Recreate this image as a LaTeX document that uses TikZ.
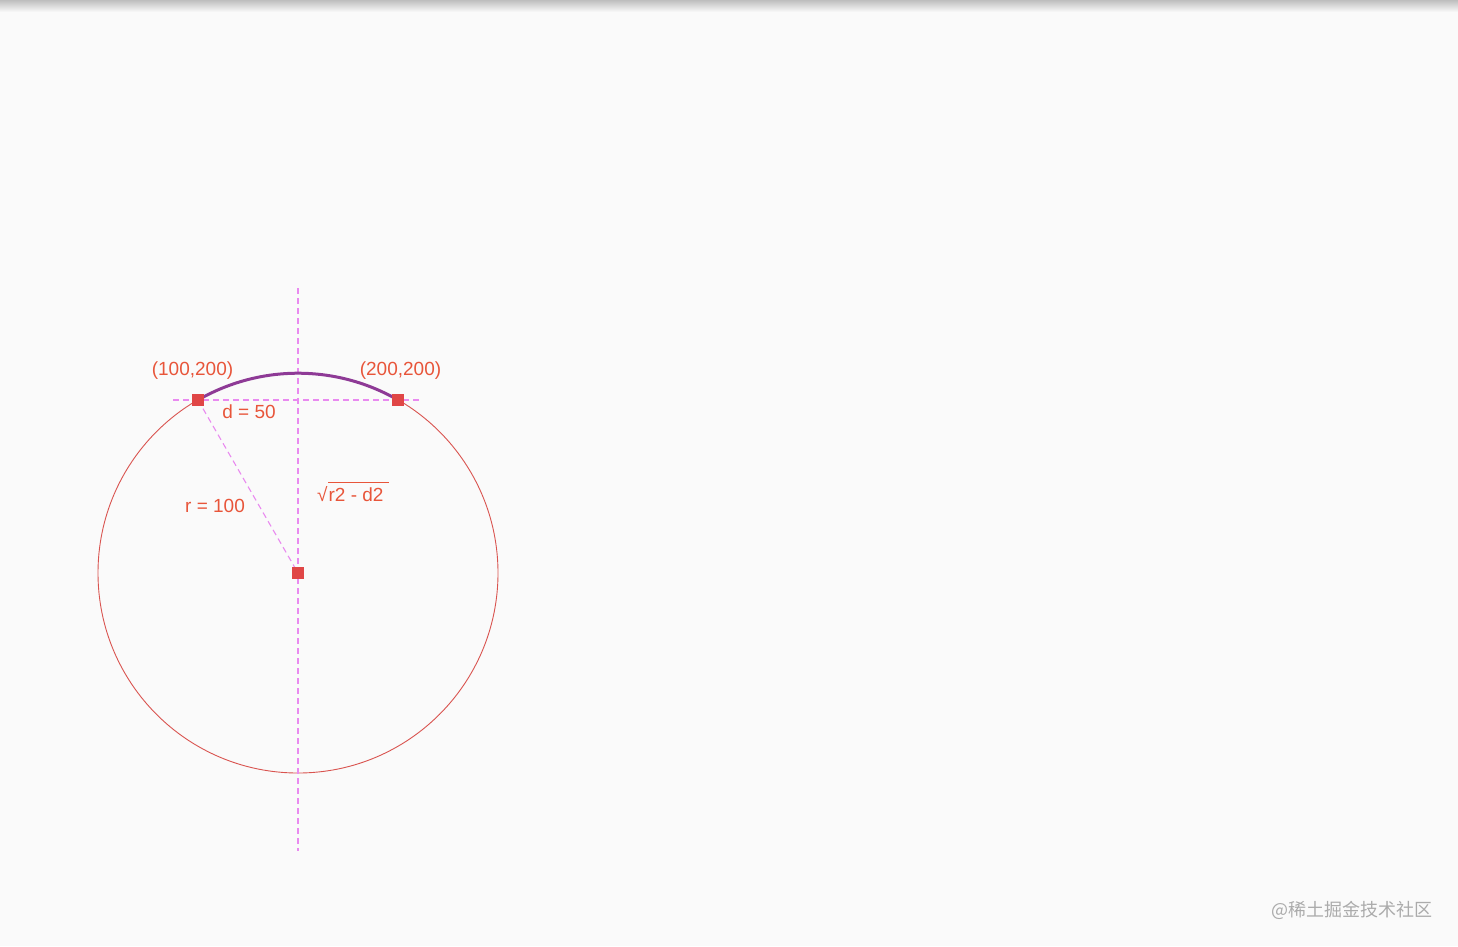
\documentclass[tikz,border=0pt]{standalone}
\usepackage{fontspec}
\setmainfont{Liberation Sans}
\newfontfamily\cjk{Noto Sans CJK SC}
\definecolor{bg}{HTML}{FAFAFA}
\definecolor{lbl}{HTML}{E8553A}
\definecolor{circ}{HTML}{D9534F}
\definecolor{dsh}{HTML}{E98AF0}
\definecolor{arcc}{HTML}{8E3A96}
\definecolor{pt}{HTML}{E04646}
\definecolor{wm}{HTML}{ABABAB}
\definecolor{shadow}{HTML}{BEBEBE}
\tikzset{
  guide/.style={draw=dsh, line width=1.1pt, dash pattern=on 6pt off 4pt},
  mark box/.style={fill=pt, draw=none, minimum size=12pt, inner sep=0pt, rectangle},
  lab/.style={text=lbl, font=\fontsize{19}{22}\selectfont, inner sep=0pt},
}
\begin{document}
\begin{tikzpicture}[x=1pt,y=-1pt]
\useasboundingbox (0,0) rectangle (1458,946);
\fill[bg] (0,0) rectangle (1458,946);
\shade[top color=shadow, bottom color=bg] (0,0) rectangle (1458,12);
\coordinate (O) at (298,573);
\coordinate (A) at (198,400);
\coordinate (B) at (398,400);
\coordinate (hl) at (173,400);
\coordinate (hr) at (421,400);
\coordinate (vt) at (298,288);
\coordinate (vb) at (298,851);
% circle
\draw[circ, line width=0.9pt] (O) circle[radius=200];
% guides
\draw[guide] (hl) -- (hr);
\draw[guide] (vt) -- (vb);
\draw[guide] (A) -- (O);
% arc
\draw[arcc, line width=3pt] (A) arc[start angle=240, end angle=300, radius=200];
% markers
\node[mark box] (mA) at (A) {};
\node[mark box] (mB) at (B) {};
\node[mark box] (mO) at (O) {};
% labels
\node[lab] (lA) at (192.5,370.5) {(100,200)};
\node[lab] (lB) at (400.5,370.5) {(200,200)};
\node[lab] (ld) at (249,411.5) {d = 50};
\node[lab] (lr) at (215,505.5) {r = 100};
\node[lab, anchor=west] (ls) at (317,494.5) {√\kern1pt r2 - d2};
\coordinate (ovl) at (328,482);
\coordinate (ovr) at (389,482);
\draw[lbl, line width=0.8pt] (ovl) -- (ovr);
% watermark
\node[text=wm, font=\cjk\fontsize{18}{20}\selectfont, anchor=east, inner sep=0pt] (wmk) at (1433,910) {@稀土掘金技术社区};
\end{tikzpicture}
\end{document}
